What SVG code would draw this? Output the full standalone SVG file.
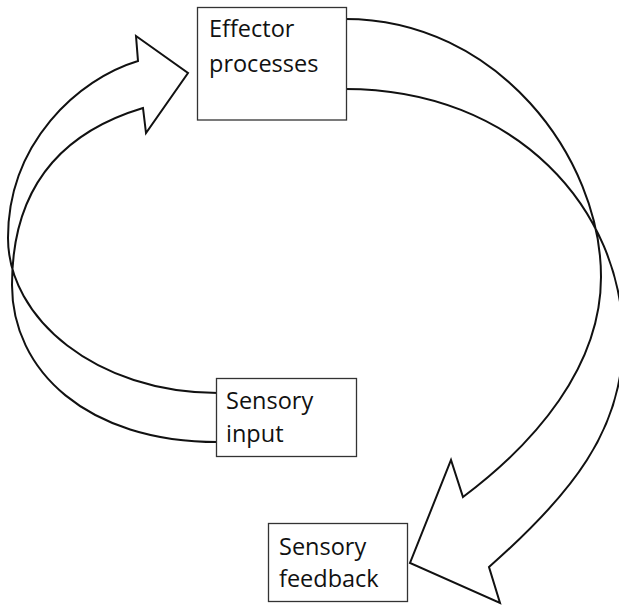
<svg xmlns="http://www.w3.org/2000/svg" width="619" height="606" viewBox="0 0 619 606">
<style>
.arrow{fill:none;stroke:#111;stroke-width:2;stroke-linejoin:miter}
.box{fill:#fff;stroke:#333;stroke-width:1.3}
.lbl{font-family:"Open Sans","Liberation Sans",sans-serif;font-size:23.5px;fill:#111}
</style>
<rect width="619" height="606" fill="#fff"/>
<g id="connectors">
<path class="arrow" d="M 218,393 C 96,393 8,318 8,238 C 8,143 78,79 138,61 L 136,36 L 188,73 L 146,133 L 143,108 C 88,124.5 12,165 12,285 C 12,370 86,442 218,442"/>
<path class="arrow" d="M 345,19 C 497,19 601,157 601,277 C 601,367 535,443 463,497 L 451,460 L 410,563 L 500,603 L 489,567 C 571.5,494.4 623,430 623,340 C 623,210 517,89 345,89"/>
</g>
<g id="effector">
<rect class="box" x="197.5" y="7.5" width="149" height="112.5"/>
<text class="lbl" x="209" y="37">Effector</text>
<text class="lbl" x="209" y="72">processes</text>
</g>
<g id="sensory-input">
<rect class="box" x="216.5" y="378.5" width="140" height="78"/>
<text class="lbl" x="226" y="409">Sensory</text>
<text class="lbl" x="226" y="442">input</text>
</g>
<g id="sensory-feedback">
<rect class="box" x="268.5" y="523.5" width="139" height="78"/>
<text class="lbl" x="279" y="555">Sensory</text>
<text class="lbl" x="279" y="587">feedback</text>
</g>
</svg>
